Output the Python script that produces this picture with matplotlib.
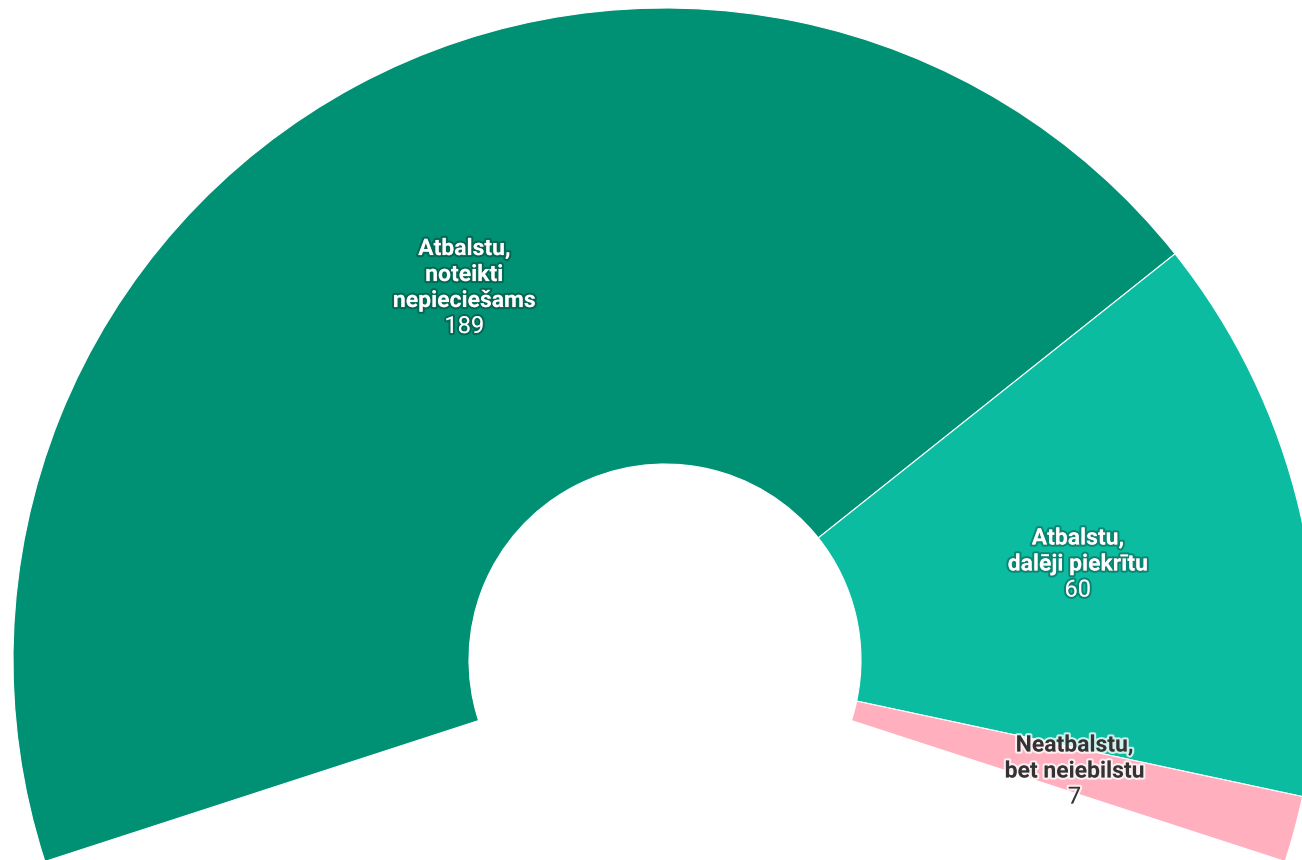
import numpy as np
import matplotlib.pyplot as plt
import matplotlib.patheffects as pe

# Dati
kategorijas = ["Atbalstu,\nnoteikti\nnepiecie\u0161ams",
               "Atbalstu,\ndal\u0113ji piekr\u012btu",
               "Neatbalstu,\nbet neiebilstu"]
vertibas = [189, 60, 7]
krasas = ["#009174", "#0bbca0", "#ffafbd"]
teksta_krasas = ["white", "white", "#333333"]

LOKS = 216.0          # grādi, ko aizņem viss loks
CENTRS = (665, 200)   # pikseļos, y uz augšu
R_ARE = 652
R_IEK = 196
SOLIS = 26            # rindu solis pikseļos
CAP = 15


def main():
    plt.rcParams["font.family"] = ["Roboto", "DejaVu Sans"]

    fig = plt.figure(figsize=(13.02, 8.6), dpi=100)
    ax = fig.add_axes([0, 0, 1, 1])

    dalas = np.array(vertibas) / sum(vertibas) * LOKS / 360.0
    wedges, _ = ax.pie(dalas, colors=krasas, normalize=False,
                       startangle=180 + (LOKS - 180) / 2, counterclock=False,
                       center=CENTRS, radius=R_ARE, frame=True,
                       wedgeprops=dict(width=R_ARE - R_IEK, edgecolor="white",
                                       linewidth=0.8))

    r_mid = (R_ARE + R_IEK) / 2
    for w, nosaukums, v, tk in zip(wedges, kategorijas, vertibas, teksta_krasas):
        th = np.deg2rad((w.theta1 + w.theta2) / 2)
        xc = CENTRS[0] + r_mid * np.cos(th)
        yc = CENTRS[1] + r_mid * np.sin(th)
        rindas = nosaukums.split("\n") + [str(v)]
        augstums = (len(rindas) - 1) * SOLIS + CAP
        b0 = yc + augstums / 2 - CAP
        halo = (0, 0, 0, 0.28) if tk == "white" else (1, 1, 1, 0.8)
        for k, rinda in enumerate(rindas):
            pedeja = k == len(rindas) - 1
            ax.text(xc, b0 - k * SOLIS, rinda, ha="center", va="baseline",
                    fontsize=17 if pedeja else 16.5, color=tk,
                    fontweight="normal" if pedeja else "bold",
                    path_effects=[pe.withStroke(linewidth=3, foreground=halo)])

    ax.set_xlim(0, 1302)
    ax.set_ylim(0, 860)
    ax.set_aspect("auto")
    ax.axis("off")

    fig.savefig("out.png", dpi=100)


if __name__ == "__main__":
    main()
